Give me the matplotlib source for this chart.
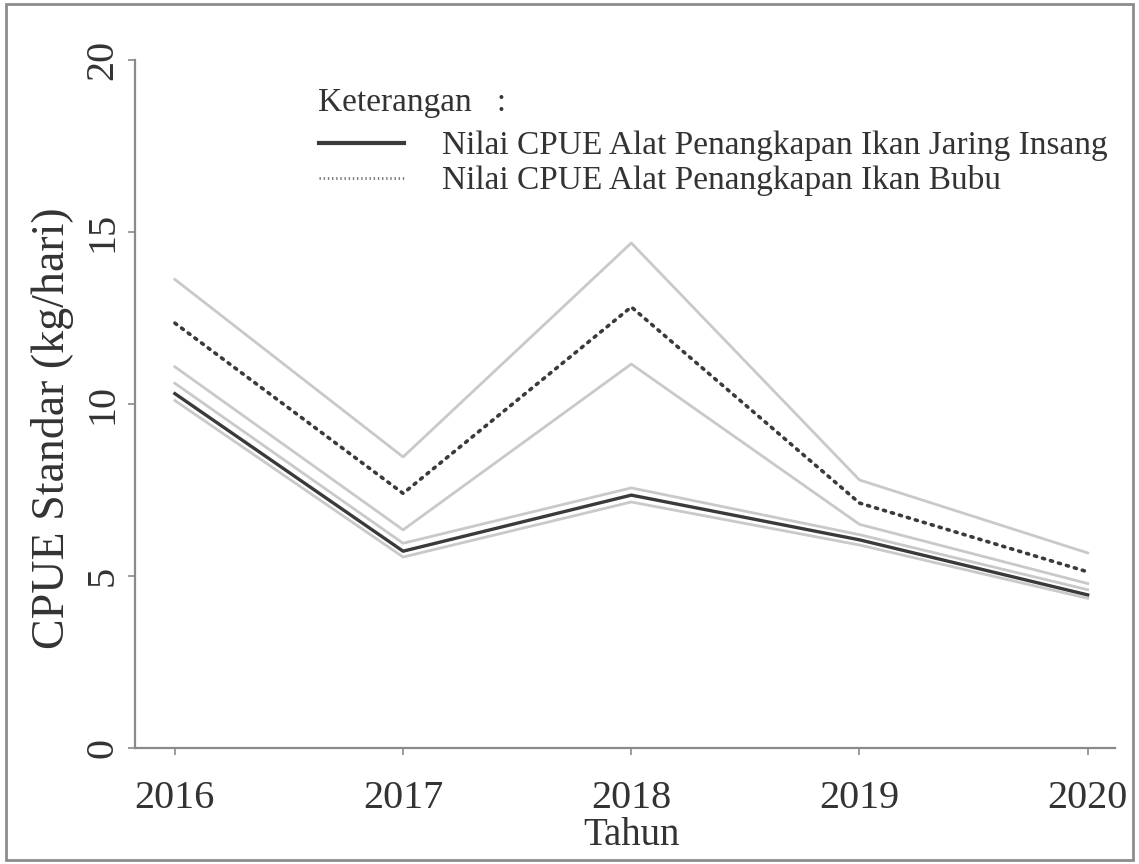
import numpy as np
import matplotlib.pyplot as plt
from matplotlib.lines import Line2D

plt.rcParams['font.family'] = ['Liberation Serif', 'DejaVu Serif']

tahun = [2016, 2017, 2018, 2019, 2020]

# CPUE gillnet (jaring insang) with its band
jaring = [10.30, 5.72, 7.35, 6.05, 4.45]
jaring_atas = [10.60, 5.95, 7.56, 6.20, 4.60]
jaring_bawah = [10.10, 5.55, 7.15, 5.90, 4.35]

# CPUE trap (bubu) with its band
bubu = [12.35, 7.40, 12.82, 7.12, 5.12]
bubu_atas = [13.62, 8.46, 14.68, 7.79, 5.67]
bubu_bawah = [11.08, 6.34, 11.16, 6.50, 4.78]

fig = plt.figure(figsize=(11.39, 8.64), dpi=100)
ax = fig.add_axes([0.1185, 0.1343, 0.8605, 0.7963])

band = dict(color='#c9c9c9', lw=2.0, zorder=1)
ax.plot(tahun, bubu_atas, **band)
ax.plot(tahun, bubu_bawah, **band)
ax.plot(tahun, jaring_atas, **band)
ax.plot(tahun, jaring_bawah, **band)

ax.plot(tahun, jaring, color='#3a3a3a', lw=2.4, zorder=3)
ax.plot(tahun, bubu, color='#3a3a3a', lw=2.6, ls=(0, (0.6, 1.7)),
        dash_capstyle='round', zorder=3)

ax.set_xlim(2015.825, 2020.12)
ax.set_ylim(0, 20)
ax.set_xticks(tahun)
ax.set_yticks([0, 5, 10, 15, 20])

for s in ['top', 'right']:
    ax.spines[s].set_visible(False)
for s in ['left', 'bottom']:
    ax.spines[s].set_color('#8a8a8a')
    ax.spines[s].set_linewidth(1.6)

ax.tick_params(axis='both', colors='#8a8a8a', length=5, width=1.2,
               labelcolor='#333333', labelsize=29)
ax.tick_params(axis='x', pad=18)
ax.tick_params(axis='y', pad=5)
for lbl in ax.get_yticklabels():
    lbl.set_rotation(90)
    lbl.set_va('center')

ax.set_xlabel('Tahun', fontsize=28, color='#333333')
ax.set_ylabel('CPUE Standar (kg/hari)', fontsize=33, color='#333333')
ax.xaxis.set_label_coords(0.507, -0.101)
ax.yaxis.set_label_coords(-0.062, 0.465)

# legend heading and entries
ax.text(0.187, 0.938, 'Keterangan   :', transform=ax.transAxes, fontsize=24,
        color='#333333', ha='left', va='center')
handles = [Line2D([], [], color='#3a3a3a', lw=3.0),
           Line2D([], [], color='#777777', lw=2.0, ls=(0, (0.5, 1.0)))]
labels = ['Nilai CPUE Alat Penangkapan Ikan Jaring Insang',
          'Nilai CPUE Alat Penangkapan Ikan Bubu']
leg = ax.legend(handles, labels, frameon=False,
                loc='upper left', bbox_to_anchor=(0.188, 0.897),
                fontsize=24, handlelength=2.55, handletextpad=1.14,
                labelspacing=0.12, borderpad=0, borderaxespad=0)
for t in leg.get_texts():
    t.set_color('#333333')

# thin frame round the whole figure
fig.patches.append(plt.Rectangle((0.005, 0.005), 0.99, 0.99, transform=fig.transFigure,
                                 fill=False, edgecolor='#8c8c8c', lw=2))

fig.savefig('out.png', dpi=100)
